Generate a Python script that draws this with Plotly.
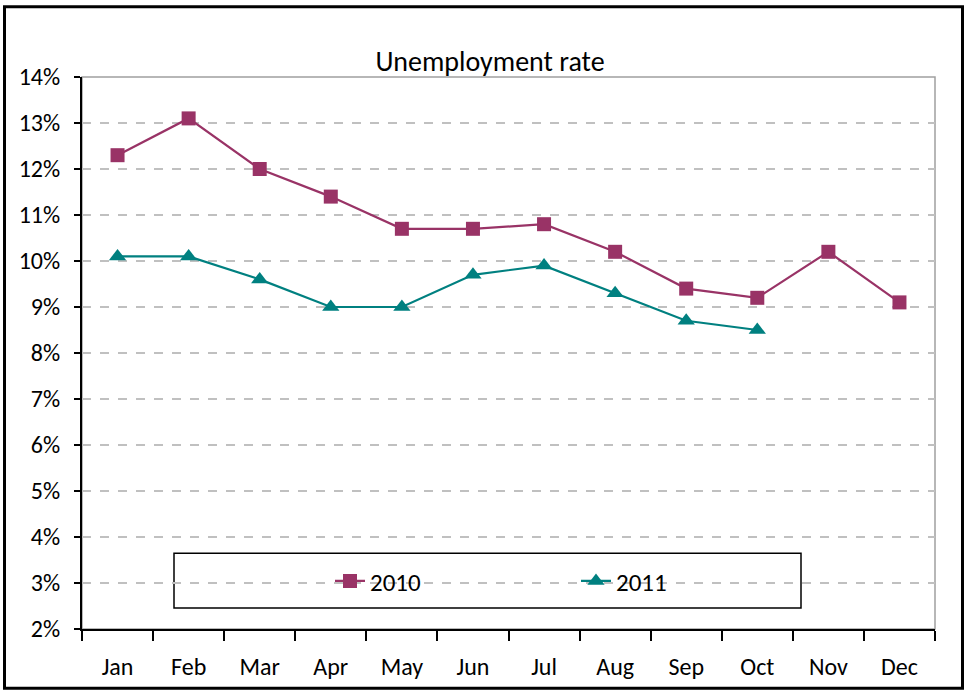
import plotly.graph_objects as go

months = ["Jan", "Feb", "Mar", "Apr", "May", "Jun", "Jul", "Aug", "Sep", "Oct", "Nov", "Dec"]
rate_2010 = [12.3, 13.1, 12.0, 11.4, 10.7, 10.7, 10.8, 10.2, 9.4, 9.2, 10.2, 9.1]
rate_2011 = [10.1, 10.1, 9.6, 9.0, 9.0, 9.7, 9.9, 9.3, 8.7, 8.5]

FONT = "Carlito, Calibri, Lato, sans-serif"

fig = go.Figure()
fig.add_trace(go.Scatter(
    x=months, y=[v / 100 for v in rate_2010], name="2010", mode="lines+markers",
    line=dict(color="#993366", width=2.2),
    marker=dict(symbol="square", size=14, color="#993366"),
))
fig.add_trace(go.Scatter(
    x=months[:len(rate_2011)], y=[v / 100 for v in rate_2011], name="2011", mode="lines+markers",
    line=dict(color="#008080", width=2.2),
    marker=dict(symbol="triangle-up", size=15, color="#008080"),
))

fig.update_layout(
    width=969, height=693,
    margin=dict(l=82, r=34, t=77, b=62),
    paper_bgcolor="white", plot_bgcolor="white",
    font=dict(family=FONT, size=24, color="black"),
    title=dict(text="Unemployment rate", x=(490 - 82) / 853, xanchor="center", xref="paper",
               y=1, yref="paper", yanchor="bottom", pad=dict(b=6),
               font=dict(family=FONT, size=28, color="black")),
    showlegend=True,
    legend=dict(orientation="h", x=(330 - 82) / 853, xanchor="left", y=(631 - 583) / 554, yanchor="middle",
                bgcolor="rgba(0,0,0,0)", borderwidth=0, entrywidth=201, entrywidthmode="pixels",
                font=dict(family=FONT, size=25, color="black")),
    xaxis=dict(
        type="category", categoryorder="array", categoryarray=months,
        range=[-0.5, 11.5],
        showline=True, linecolor="black", linewidth=2,
        ticks="outside", tickson="boundaries", ticklen=10, tickwidth=2, tickcolor="black",
        showgrid=False, ticklabelstandoff=15,
        tickfont=dict(family=FONT, size=24),
    ),
    yaxis=dict(
        range=[0.02, 0.14], dtick=0.01, tick0=0.02, tickformat=".0%",
        showline=True, linecolor="black", linewidth=2,
        ticks="outside", ticklen=6, tickwidth=2, tickcolor="black",
        showgrid=True, gridcolor="#c0c0c0", griddash="dash", gridwidth=1.5,
        zeroline=False, ticklabelstandoff=9,
        tickfont=dict(family=FONT, size=24),
    ),
    shapes=[
        dict(type="rect", xref="paper", yref="paper", x0=0, x1=1, y0=0, y1=1,
             line=dict(color="#a0a0a0", width=1.5), layer="below"),
        dict(type="rect", xref="paper", yref="paper",
             x0=(174 - 82) / 853, x1=(801 - 82) / 853,
             y0=(631 - 610) / 554, y1=(631 - 555) / 554,
             line=dict(color="black", width=1.5), fillcolor="white", layer="below"),
        dict(type="rect", xref="paper", yref="paper",
             x0=(4.5 - 82) / 853, x1=(962.5 - 82) / 853,
             y0=(631 - 690.5) / 554, y1=(631 - 6.5) / 554,
             line=dict(color="black", width=3)),
    ],
)

fig.write_html("out.html", config={"displayModeBar": False},
               post_script="document.body.style.margin='0px';document.body.style.overflow='hidden';")
